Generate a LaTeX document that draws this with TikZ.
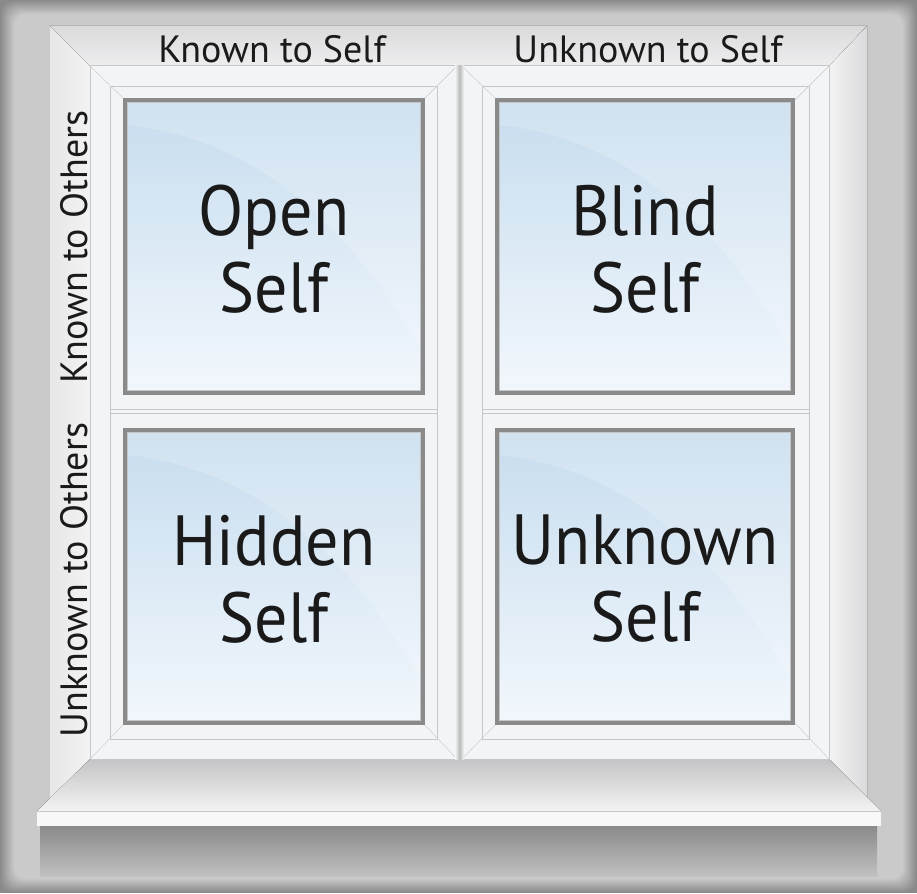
\documentclass[tikz,border=0pt]{standalone}
\usepackage{fontspec}
\setmainfont{PT Sans}
\newfontfamily\quadfont[FakeStretch=0.93]{PT Sans}
\definecolor{edgegray}{HTML}{8A8A8A}
\definecolor{bandgray}{HTML}{CACACA}
\definecolor{revealA}{HTML}{DADADC}
\definecolor{revealB}{HTML}{F3F3F4}
\definecolor{sashwhite}{HTML}{F3F4F6}
\definecolor{sashline}{HTML}{C6C7C9}
\definecolor{bevelgray}{HTML}{8A8A8A}
\definecolor{glasstop}{HTML}{C6DCEE}
\definecolor{glassbot}{HTML}{F2F7FC}
\definecolor{textblack}{HTML}{1A1A1A}

\begin{document}
\begin{tikzpicture}[x=1pt, y=-1pt,
    sash/.style={fill=sashwhite, draw=sashline, line width=1pt},
    pane/.style={top color=glasstop, bottom color=glassbot, inner sep=0pt},
    bevel/.style={draw=bevelgray, line width=3.5pt},
    quad/.style={font=\quadfont\fontsize{71}{77}\selectfont, align=center, text=textblack},
    axis/.style={font=\fontsize{38}{42}\selectfont, text=textblack}]
  \useasboundingbox (0,0) rectangle (917,893);
  \fill[edgegray] (0,0) rectangle (917,893);
  \foreach \i in {1,...,14} {
    \pgfmathtruncatemacro\p{\i*100/14}
    \fill[bandgray!\p!edgegray, rounded corners=12pt] (\i,\i) rectangle (917-\i,893-\i);
  }
  \fill[top color=revealA, bottom color=revealB!80!revealA] (50,26) -- (867,26) -- (829,66) -- (90,66) -- cycle;
  \fill[left color=revealA!50!revealB, right color=revealB] (50,26) -- (90,66) -- (90,811) -- (50,811) -- cycle;
  \fill[left color=revealB, right color=revealA] (867,26) -- (829,66) -- (829,811) -- (867,811) -- cycle;
  \fill[top color=edgegray, bottom color=bandgray!85!edgegray] (40,826) rectangle (877,876);
  \fill[top color=revealA!90!black, bottom color=revealB] (90,759) -- (829,759) -- (881,811) -- (37,811) -- cycle;
  \fill[revealB!60!white] (37,811) rectangle (881,826);
  \draw[sashline] (37,811.5) -- (881,811.5);
  \foreach \x in {90,462} {
    \fill[sash] (\x,66) rectangle +(367,693);
    \draw[sashline] (\x+20,86) rectangle (\x+347,739);
    \draw[sashline] (\x+20,409) -- (\x+347,409) (\x+20,413) -- (\x+347,413);
    \draw[sashline] (\x,66) -- (\x+35,100) (\x+367,66) -- (\x+333,100)
      (\x,759) -- (\x+35,723) (\x+367,759) -- (\x+333,723);
  }
  \shade[left color=sashwhite, right color=sashwhite, middle color=gray!55] (455,66) rectangle (464,759);
  \node[pane, minimum width=298pt, minimum height=293pt] (openpane) at (274,246.5) {};
  \node[pane, minimum width=296pt, minimum height=293pt] (blindpane) at (645,246.5) {};
  \node[pane, minimum width=298pt, minimum height=293pt] (hiddenpane) at (274,576.5) {};
  \node[pane, minimum width=296pt, minimum height=293pt] (unknownpane) at (645,576.5) {};
  \foreach \n in {openpane,blindpane,hiddenpane,unknownpane} {
    \fill[white, opacity=0.18] (\n.north west) -- ([yshift=-25pt]\n.north west)
      .. controls ([xshift=150pt,yshift=-40pt]\n.north west) and ([xshift=-60pt,yshift=-150pt]\n.north east)
      .. ([yshift=40pt]\n.south east) -- (\n.north east) -- cycle;
    \draw[bevel] (\n.north west) rectangle (\n.south east);
    \draw[gray!45, line width=1pt] ([shift={(2.5pt,-2.5pt)}]\n.north west) rectangle ([shift={(-2.5pt,2.5pt)}]\n.south east);
  }
  \node[quad] (opentxt) at ([yshift=-2.5pt]openpane.center) {Open\\Self};
  \node[quad] (blindtxt) at ([yshift=-2.5pt]blindpane.center) {Blind\\Self};
  \node[quad] (hiddentxt) at ([yshift=-2.5pt]hiddenpane.center) {Hidden\\Self};
  \node[quad] (unknowntxt) at ([yshift=-2.5pt]unknownpane.center) {Unknown\\Self};
  \node[axis, anchor=base] (kself) at (272,63) {Known to Self};
  \node[axis, anchor=base] (uself) at (648,63) {Unknown to Self};
  \node[axis, rotate=90, anchor=base] (kothers) at (87,247) {Known to Others};
  \node[axis, rotate=90, anchor=base] (uothers) at (87,580) {Unknown to Others};
\end{tikzpicture}
\end{document}
